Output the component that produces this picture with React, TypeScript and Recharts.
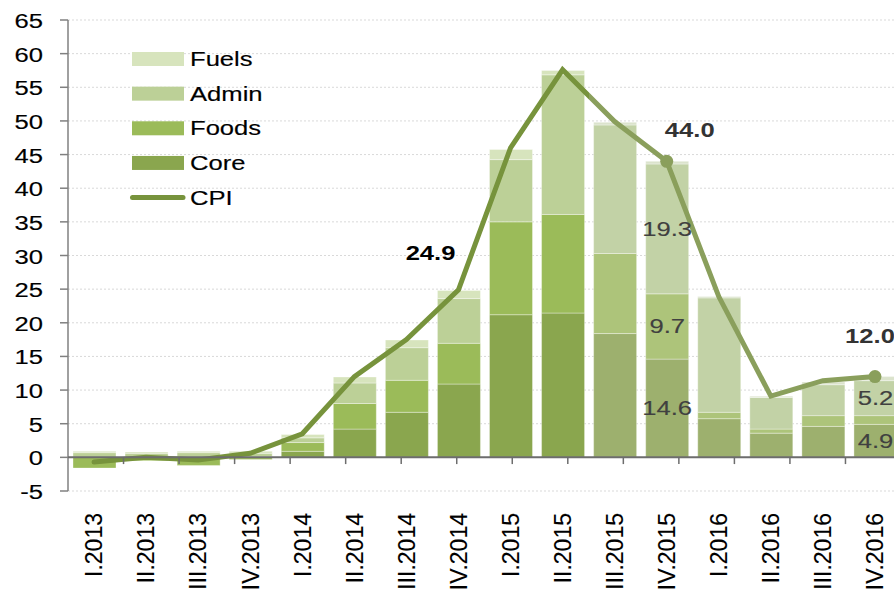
import React from 'react';
import {
  ComposedChart, Bar, Line, XAxis, YAxis, CartesianGrid, ReferenceLine,
  ReferenceArea, Legend, LabelList, Cell,
} from 'recharts';

// ---------- data ----------
const quarters = [
  'I.2013', 'II.2013', 'III.2013', 'IV.2013',
  'I.2014', 'II.2014', 'III.2014', 'IV.2014',
  'I.2015', 'II.2015', 'III.2015', 'IV.2015',
  'I.2016', 'II.2016', 'III.2016', 'IV.2016',
];
const core = [0, 0, 0, 0.1, 0.9, 4.2, 6.7, 10.9, 21.2, 21.45, 18.4, 14.6, 5.75, 3.6, 4.6, 4.9];
const foods = [-1.6, -0.5, -1.2, -0.3, 1.3, 3.8, 4.75, 6.05, 13.8, 14.65, 11.9, 9.7, 0.95, 0.6, 1.6, 1.3];
const admin = [0.7, 0.6, 0.7, 0.5, 0.7, 3.05, 4.85, 6.65, 9.25, 20.75, 19.1, 19.3, 17.0, 4.7, 4.6, 5.2];
const fuels = [0.2, 0.2, 0.2, 0.3, 0.5, 0.9, 1.15, 1.2, 1.5, 0.65, 0.4, 0.4, 0.2, 0.2, 0.4, 0.6];
const cpi = [-0.7, 0.0, -0.4, 0.6, 3.5, 12.0, 17.5, 24.9, 46.0, 57.6, 49.9, 44.0, 23.9, 9.1, 11.4, 12.0];

const yTicks = [-5, 0, 5, 10, 15, 20, 25, 30, 35, 40, 45, 50, 55, 60, 65];
const forecastFrom = 'III.2015';
const markedQuarters = ['IV.2015', 'IV.2016'];
const cpiLabelQuarters = ['IV.2014', 'IV.2015', 'IV.2016'];
const coreLabelQuarters = ['IV.2015', 'IV.2016'];
const foodsLabelQuarters = ['IV.2015'];
const adminLabelQuarters = ['IV.2015', 'IV.2016'];
const shadeBottom = -3.3;
const shadeTop = 64.7;

// ---------- styles ----------
const FONT = '"Liberation Sans", Arial, Helvetica, sans-serif';
const SX = 1.28;
const COLORS: Record<string, string> = {
  fuels: '#d7e4bd', admin: '#bcd097', foods: '#9bbb59', core: '#8aa64e', cpi: '#77933c',
};
const FADED: Record<string, string> = {
  fuels: '#dbe3cc', admin: '#c2d2a6', foods: '#adc47a', core: '#9db06e', cpi: '#8a9f5c',
};
const cpiLabelPlacement: Record<string, { dx: number; dy: number; anchor: string; fill: string }> = {
  'IV.2014': { dx: -3, dy: -30, anchor: 'end', fill: '#000000' },
  'IV.2015': { dx: 23, dy: -24, anchor: 'middle', fill: '#333333' },
  'IV.2016': { dx: -5, dy: -34, anchor: 'middle', fill: '#333333' },
};

const forecastIndex = quarters.indexOf(forecastFrom);
const pick = (list: string[], q: string, v: number) => (list.includes(q) ? v : undefined);
const data = quarters.map((q, i) => ({
  q,
  core: core[i],
  foods: foods[i],
  admin: admin[i],
  fuels: fuels[i],
  cpi: cpi[i],
  coreLbl: pick(coreLabelQuarters, q, core[i]),
  foodsLbl: pick(foodsLabelQuarters, q, foods[i]),
  adminLbl: pick(adminLabelQuarters, q, admin[i]),
  cpiTag: cpiLabelQuarters.includes(q) ? q : undefined,
}));
const boundaries = quarters.map((_, i) => i).slice(1);

const SText = ({ x, y, anchor = 'middle', size = 20, weight = 'normal', fill = '#000', children }: any) => (
  <text
    transform={`translate(${x},${y}) scale(${SX},1)`}
    x={0}
    y={0}
    textAnchor={anchor}
    fontSize={size}
    fontWeight={weight}
    fill={fill}
    stroke={weight === 'normal' ? fill : 'none'}
    strokeWidth={0.15}
    fontFamily={FONT}
  >
    {children}
  </text>
);

const YTick = (props: any) => {
  const { x, y, payload } = props;
  return <SText x={x} y={y + 8} anchor="end">{payload.value}</SText>;
};

const XTick = (props: any) => {
  const { x, y, payload } = props;
  return (
    <g transform={`translate(${x},${y})`}>
      <text
        transform="rotate(-90)"
        x={-22}
        y={0}
        dy="0.36em"
        textAnchor="end"
        fontSize={23}
        fontFamily={FONT}
        fill="#000"
        stroke="#000"
        strokeWidth={0.12}
      >
        {payload.value}
      </text>
    </g>
  );
};

const insideLabel = (props: any) => {
  const { value } = props;
  if (value === undefined || value === null) return null;
  const vb = props.viewBox || props;
  const x = props.x ?? vb.x;
  const y = props.y ?? vb.y;
  const w = props.width ?? vb.width;
  const h = props.height ?? vb.height;
  return (
    <SText x={x + w / 2} y={y + h / 2 + 7} fill="#404040">
      {Number(value).toFixed(1)}
    </SText>
  );
};

const cpiLabel = (props: any) => {
  const { value } = props;
  if (!value) return null;
  const vb = props.viewBox || {};
  const x = props.x ?? vb.x;
  const y = props.y ?? vb.y;
  const p = cpiLabelPlacement[value];
  const v = cpi[quarters.indexOf(value)];
  return (
    <SText x={x + p.dx} y={y + p.dy} anchor={p.anchor} weight="bold" fill={p.fill}>
      {v.toFixed(1)}
    </SText>
  );
};

const CpiDot = (props: any) => {
  const { cx, cy, payload, index } = props;
  if (!payload || !markedQuarters.includes(payload.q)) return <g key={`d${index}`} />;
  return <circle key={`d${index}`} cx={cx} cy={cy} r={6.5} fill={FADED.cpi} />;
};

const legendItems = [
  { name: 'Fuels', key: 'fuels' },
  { name: 'Admin', key: 'admin' },
  { name: 'Foods', key: 'foods' },
  { name: 'Core', key: 'core' },
  { name: 'CPI', key: 'cpi', line: true },
];

const renderLegend = () => (
  <svg width={160} height={180} style={{ overflow: 'visible' }}>
    {legendItems.map((it, i) => {
      const cy = 10 + i * 34.65;
      return (
        <g key={it.key}>
          {it.line ? (
            <line x1={2.5} x2={53} y1={cy} y2={cy} stroke={COLORS.cpi} strokeWidth={5} strokeLinecap="round" />
          ) : (
            <rect x={2} y={cy - 7} width={52} height={14} fill={COLORS[it.key]} />
          )}
          <SText x={60} y={cy + 7} anchor="start">{it.name}</SText>
        </g>
      );
    })}
  </svg>
);

const cellFill = (key: string) =>
  data.map((d, i) => <Cell key={`${key}${i}`} fill={i >= forecastIndex ? FADED[key] : COLORS[key]} />);

const gradOffset = (forecastIndex - 0.5) / (quarters.length - 1);

export default function App() {
  return (
    <div style={{ position: 'fixed', left: 0, top: 0, width: 894, height: 598, overflow: 'hidden', background: '#fff' }}>
      <ComposedChart
        width={901}
        height={598}
        data={data}
        stackOffset="sign"
        margin={{ top: 20, right: 0, bottom: 0, left: 0 }}
      >
        <defs>
          <linearGradient id="cpiStroke" x1="0" y1="0" x2="1" y2="0">
            <stop offset={0} stopColor={COLORS.cpi} />
            <stop offset={gradOffset} stopColor={COLORS.cpi} />
            <stop offset={gradOffset} stopColor={FADED.cpi} />
            <stop offset={1} stopColor={FADED.cpi} />
          </linearGradient>
        </defs>
        <ReferenceArea
          xAxisId="n"
          x1={forecastIndex}
          x2={quarters.length}
          y1={shadeBottom}
          y2={shadeTop}
          fill="#f3f3f3"
          fillOpacity={1}
          stroke="none"
          zIndex={-200}
        />
        <CartesianGrid vertical={false} stroke="#d9d9d9" strokeDasharray="2 2" />
        <XAxis
          dataKey="q"
          interval={0}
          height={107}
          tickSize={0}
          tickMargin={0}
          axisLine={false}
          tickLine={false}
          tick={<XTick />}
        />
        <XAxis xAxisId="n" type="number" domain={[0, quarters.length]} hide allowDataOverflow />
        <YAxis
          domain={[-5, 65]}
          ticks={yTicks}
          interval={0}
          width={68}
          tickSize={8}
          tickMargin={17}
          axisLine={{ stroke: '#808080', strokeWidth: 1.5 }}
          tickLine={{ stroke: '#808080', strokeWidth: 1.5 }}
          tick={<YTick />}
          allowDataOverflow
        />
        <Legend
          layout="vertical"
          align="center"
          verticalAlign="middle"
          content={renderLegend}
          wrapperStyle={{ position: 'absolute', left: 130, top: 48.7, width: 160, height: 180 }}
        />
        <Bar dataKey="core" name="Core" stackId="a" barSize={43} stroke="#ffffff" strokeOpacity={0.35} strokeWidth={1} isAnimationActive={false}>
          {cellFill('core')}
          <LabelList dataKey="coreLbl" content={insideLabel} />
        </Bar>
        <Bar dataKey="foods" name="Foods" stackId="a" barSize={43} stroke="#ffffff" strokeOpacity={0.35} strokeWidth={1} isAnimationActive={false}>
          {cellFill('foods')}
          <LabelList dataKey="foodsLbl" content={insideLabel} />
        </Bar>
        <Bar dataKey="admin" name="Admin" stackId="a" barSize={43} stroke="#ffffff" strokeOpacity={0.35} strokeWidth={1} isAnimationActive={false}>
          {cellFill('admin')}
          <LabelList dataKey="adminLbl" content={insideLabel} />
        </Bar>
        <Bar dataKey="fuels" name="Fuels" stackId="a" barSize={43} stroke="#ffffff" strokeOpacity={0.35} strokeWidth={1} isAnimationActive={false}>
          {cellFill('fuels')}
        </Bar>
        <ReferenceLine y={0} stroke="#6d6d6d" strokeWidth={2} zIndex={500} />
        {boundaries.map((b) => (
          <ReferenceLine
            key={`b${b}`}
            xAxisId="n"
            segment={[{ x: b, y: 0 }, { x: b, y: -1 }]}
            stroke="#6d6d6d"
            strokeWidth={1.5}
            zIndex={500}
          />
        ))}
        <Line
          dataKey="cpi"
          name="CPI"
          type="linear"
          stroke="url(#cpiStroke)"
          strokeWidth={5}
          strokeLinecap="round"
          dot={CpiDot}
          activeDot={false}
          isAnimationActive={false}
        >
          <LabelList dataKey="cpiTag" content={cpiLabel} />
        </Line>
      </ComposedChart>
    </div>
  );
}
